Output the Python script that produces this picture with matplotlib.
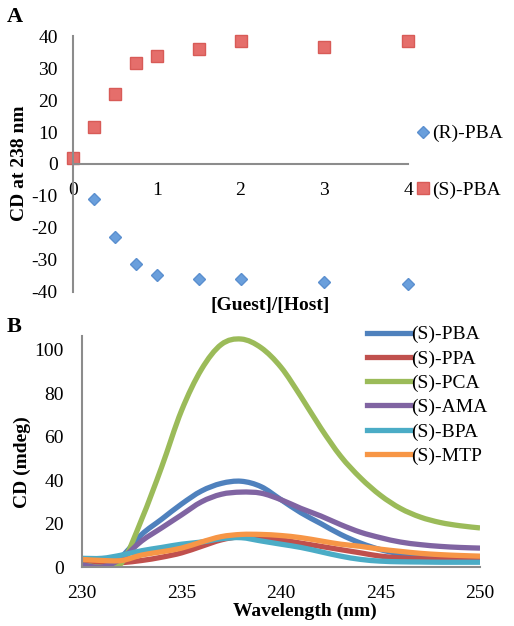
import numpy as np
import matplotlib
matplotlib.use("Agg")
import matplotlib.pyplot as plt
from matplotlib.path import Path
from matplotlib.patches import PathPatch
from matplotlib.lines import Line2D

plt.rcParams['font.family'] = ['Liberation Serif', 'DejaVu Serif']
plt.rcParams['axes.unicode_minus'] = False

# Panel A: CD at 238 nm vs [Guest]/[Host]
ratio = [0, 0.25, 0.5, 0.75, 1, 1.5, 2, 3, 4]
cd_R = [None, -11, -23, -31.3, -34.8, -36, -36, -37, -37.6]
cd_S = [2, 11.5, 22, 31.8, 33.8, 35.9, 38.5, 36.6, 38.5]

# Panel B: CD spectra
wavelength = list(range(230, 251))
spectra = {
    "(S)-PBA": [2, 1, 5, 15, 22, 29, 35, 38.5, 39.5, 37, 31, 25, 20, 15, 11, 8, 6, 4.5, 3.5, 3, 3],
    "(S)-PPA": [1.5, 1.5, 2, 3, 4.5, 6.5, 9.5, 12.5, 14, 13.5, 12.5, 11, 9.5, 8, 6.5, 5, 4.2, 3.8, 3.6, 3.5, 3.5],
    "(S)-PCA": [1, 0, 2, 22, 46, 72, 91, 102.5, 105, 101, 92, 78.5, 64, 51, 41, 33, 27, 23, 20.5, 19, 18],
    "(S)-AMA": [1, 0, 4, 12, 18, 24, 30, 33.5, 34.5, 34, 31, 27, 23.5, 19.5, 16, 13.5, 11.5, 10.3, 9.5, 9, 8.7],
    "(S)-BPA": [4, 4, 5.5, 7.5, 9, 10.5, 11.5, 13, 13.5, 12, 10.5, 9, 7, 5, 3.5, 2.7, 2.4, 2.3, 2.2, 2.2, 2.2],
    "(S)-MTP": [3.5, 3, 3, 5.5, 7, 8.7, 11.5, 14, 15, 15, 14.5, 13.5, 12, 10.5, 9.5, 8.2, 7.2, 6.3, 5.7, 5.3, 5],
}
colors = ["#4F81BD", "#C0504D", "#9BBB59", "#8064A2", "#4BACC6", "#F79646"]


def smooth_path(x, y):
    # Excel-like smoothed line: bezier segments through the data points
    pts = np.column_stack([x, y]).astype(float)
    verts = [pts[0]]
    codes = [Path.MOVETO]
    n = len(pts)
    for i in range(n - 1):
        p0 = pts[i - 1] if i > 0 else pts[i]
        p1 = pts[i]
        p2 = pts[i + 1]
        p3 = pts[i + 2] if i + 2 < n else pts[i + 1]
        verts += [p1 + (p2 - p0) / 6, p2 - (p3 - p1) / 6, p2]
        codes += [Path.CURVE4] * 3
    return Path(verts, codes)


W, H = 514, 626
fig = plt.figure(figsize=(W / 100, H / 100), dpi=100)
gray = "#8C8C8C"
fs = 14

# ---- Panel A
axA = fig.add_axes([73 / W, 1 - 291.6 / H, 335 / W, 255.2 / H])
r = np.array([np.nan if v is None else v for v in cd_R])
axA.plot(ratio, r, linestyle="none", marker="D", ms=6.5, mfc="#6A9FDC", mec="#5B8FCF",
         label="(R)-PBA", clip_on=False)
axA.plot(ratio, cd_S, linestyle="none", marker="s", ms=8, mfc="#E56E6B", mec="#D85B57",
         label="(S)-PBA", clip_on=False)
axA.set_xlim(0, 4)
axA.set_ylim(-40, 40)
axA.set_yticks(range(-40, 41, 10))
axA.set_xticks(range(0, 5))
for s in ["top", "right"]:
    axA.spines[s].set_visible(False)
axA.spines["left"].set_position(("data", 0))
axA.spines["bottom"].set_position(("data", 0))
for s in ["left", "bottom"]:
    axA.spines[s].set_color(gray)
    axA.spines[s].set_linewidth(1.5)
axA.tick_params(axis="both", length=0, labelsize=fs)
axA.tick_params(axis="x", pad=13)
axA.tick_params(axis="y", pad=11)
axA.legend(loc="upper left", bbox_to_anchor=(407 / W, 1 - 115 / H),
           bbox_transform=fig.transFigure, frameon=False, fontsize=fs,
           handlelength=0.6, handletextpad=0.2, labelspacing=2.0, borderpad=0)
fig.text(20 / W, 1 - 163 / H, "CD at 238 nm", rotation=90, ha="center", va="center",
         fontsize=fs, fontweight="bold")
fig.text(270 / W, 1 - 305 / H, "[Guest]/[Host]", ha="center", va="center",
         fontsize=fs, fontweight="bold")
fig.text(7 / W, 1 - 17 / H, "A", ha="left", va="center", fontsize=16, fontweight="bold")

# ---- Panel B
axB = fig.add_axes([82 / W, 1 - 567 / H, 398 / W, 231 / H])
handles = []
for (name, vals), c in zip(spectra.items(), colors):
    axB.add_patch(PathPatch(smooth_path(wavelength, vals), fill=False, edgecolor=c,
                            lw=3.8, capstyle="butt", joinstyle="round"))
    handles.append(Line2D([], [], color=c, lw=3.8, label=name))
axB.set_xlim(230, 250)
axB.set_ylim(0, 106.4)
axB.set_xticks(range(230, 251, 5))
axB.set_yticks(range(0, 101, 20))
for s in ["top", "right"]:
    axB.spines[s].set_visible(False)
for s in ["left", "bottom"]:
    axB.spines[s].set_color(gray)
    axB.spines[s].set_linewidth(1.5)
axB.tick_params(axis="both", length=0, labelsize=fs, pad=13)
axB.legend(handles=handles, loc="upper left", bbox_to_anchor=(357 / W, 1 - 316 / H),
           bbox_transform=fig.transFigure, frameon=False, fontsize=fs,
           handlelength=2.2, handletextpad=0.1, labelspacing=0.34, borderpad=0)
fig.text(22 / W, 1 - 462 / H, "CD (mdeg)", rotation=90, ha="center", va="center",
         fontsize=fs, fontweight="bold")
fig.text(305 / W, 1 - 611 / H, "Wavelength (nm)", ha="center", va="center",
         fontsize=fs, fontweight="bold")
fig.text(7 / W, 1 - 327 / H, "B", ha="left", va="center", fontsize=16, fontweight="bold")

fig.savefig("out.png", dpi=100)
